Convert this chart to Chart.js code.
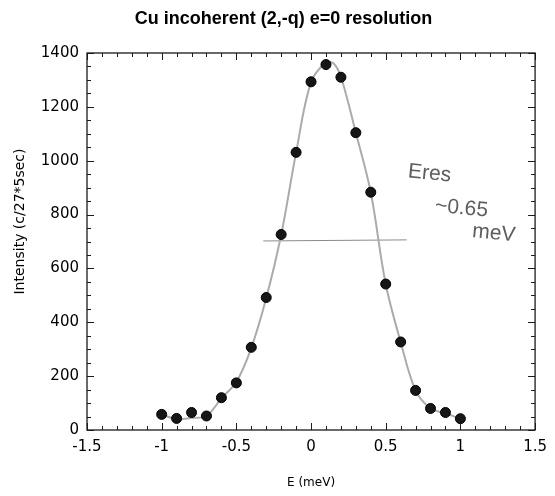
<!DOCTYPE html>
<html><head><meta charset="utf-8">
<script src="https://cdn.jsdelivr.net/npm/chart.js@4"></script>
<style>html,body{margin:0;padding:0;background:#fff}</style>
</head><body>
<canvas id="c" width="555" height="496"></canvas>
<script>
const energy = [-1.0, -0.9, -0.8, -0.7, -0.6, -0.5, -0.4, -0.3, -0.2, -0.1, 0.0, 0.1, 0.2, 0.3, 0.4, 0.5, 0.6, 0.7, 0.8, 0.9, 1.0];
const intensity = [58, 43, 65, 52, 120, 175, 307, 492, 726, 1031, 1293, 1357, 1310, 1104, 883, 542, 327, 147, 80, 65, 42];
const fitEnergy = [-1.0, -0.9, -0.8, -0.7, -0.6, -0.5, -0.4, -0.3, -0.2, -0.1, 0.0, 0.1, 0.15, 0.2, 0.3, 0.4, 0.5, 0.6, 0.7, 0.8, 0.9, 1.0];
const fitIntensity = [58, 40, 45, 52, 118, 178, 305, 490, 725, 1030, 1292, 1365, 1362, 1312, 1104, 882, 542, 327, 147, 80, 62, 42];
const halfMaxEnergy = [-0.32, 0.64];
const halfMaxIntensity = [702, 706];
const xTickLabels = ['-1.5', '-1', '-0.5', '0', '0.5', '1', '1.5'];
const yTickLabels = ['0', '200', '400', '600', '800', '1000', '1200', '1400'];
const noteLines = ['Eres', '~0.65', 'meV'];
const noteEnergy = [0.65, 0.83, 1.08];
const noteIntensity = [960, 833, 738];
const chartTitle = 'Cu incoherent (2,-q) e=0 resolution';
const yTitle = 'Intensity (c/27*5sec)';
const xTitle = 'E (meV)';

function pickLabel(list, v) {
  const i = list.findIndex(l => Math.abs(parseFloat(l) - v) < 1e-6);
  return i >= 0 ? list[i] : '';
}

const framePlugin = {
  id: 'frame',
  afterDraw(chart) {
    const {ctx, chartArea: a, scales: {x, y}} = chart;
    ctx.save();
    ctx.strokeStyle = '#1a1a1a';
    ctx.lineWidth = 1.3;
    ctx.strokeRect(a.left, a.top, a.right - a.left, a.bottom - a.top);
    ctx.lineWidth = 1;
    const seg = (x1, y1, x2, y2) => { ctx.beginPath(); ctx.moveTo(x1, y1); ctx.lineTo(x2, y2); ctx.stroke(); };
    x.ticks.forEach(t => {
      const px = Math.round(x.getPixelForValue(t.value)) + 0.5;
      const L = t.label ? 7 : 4;
      seg(px, a.bottom, px, a.bottom - L);
      seg(px, a.top, px, a.top + L);
    });
    y.ticks.forEach(t => {
      const py = Math.round(y.getPixelForValue(t.value)) + 0.5;
      const L = t.label ? 7 : 4;
      seg(a.left, py, a.left + L, py);
      seg(a.right, py, a.right - L, py);
    });
    ctx.restore();
  }
};

const textPlugin = {
  id: 'texts',
  afterDraw(chart) {
    const {ctx, chartArea: a, scales: {x, y}} = chart;
    ctx.save();
    // chart title
    ctx.fillStyle = '#000';
    ctx.font = 'bold 18px "Liberation Sans", Arial';
    ctx.textAlign = 'center';
    ctx.textBaseline = 'middle';
    ctx.fillText(chartTitle, chart.width / 2 + 6, a.top - 34);
    // y axis title
    ctx.save();
    ctx.font = '14px "DejaVu Sans"';
    ctx.translate(a.left - 67, (a.top + a.bottom) / 2 - 20);
    ctx.rotate(-Math.PI / 2);
    ctx.fillText(yTitle, 0, 0);
    ctx.restore();
    // handwritten note
    ctx.fillStyle = '#5e5e5e';
    ctx.font = '21px "Liberation Sans"';
    ctx.textAlign = 'left';
    noteLines.forEach((txt, i) => {
      ctx.save();
      ctx.translate(x.getPixelForValue(noteEnergy[i]), y.getPixelForValue(noteIntensity[i]));
      ctx.rotate(0.1);
      ctx.fillText(txt, 0, 0);
      ctx.restore();
    });
    ctx.restore();
  }
};

new Chart(document.getElementById('c'), {
  type: 'scatter',
  data: {
    datasets: [
      {
        type: 'line',
        data: fitEnergy.map((e, i) => ({x: e, y: fitIntensity[i]})),
        borderColor: '#ababab', borderWidth: 2, pointRadius: 0, tension: 0.35, fill: false, order: 2
      },
      {
        type: 'line',
        data: halfMaxEnergy.map((e, i) => ({x: e, y: halfMaxIntensity[i]})),
        borderColor: '#8a8a8a', borderWidth: 1, pointRadius: 0, fill: false, order: 3
      },
      {
        type: 'scatter',
        data: energy.map((e, i) => ({x: e, y: intensity[i]})),
        backgroundColor: '#161616', borderColor: '#000', borderWidth: 1, pointRadius: 5, order: 1
      }
    ]
  },
  options: {
    responsive: false,
    animation: false,
    devicePixelRatio: 1,
    layout: {padding: {left: 6, right: 15, top: 53, bottom: 4}},
    plugins: {
      legend: {display: false},
      tooltip: {enabled: false},
      title: {display: false}
    },
    scales: {
      x: {
        type: 'linear', min: -1.5, max: 1.5,
        grid: {display: false, drawTicks: false, tickLength: 0}, border: {display: false},
        ticks: {
          stepSize: 0.1, autoSkip: false, maxRotation: 0, padding: 8, color: '#000',
          font: {family: '"DejaVu Sans"', size: 15},
          callback: v => pickLabel(xTickLabels, v)
        },
        title: {display: true, text: xTitle, color: '#000', font: {family: '"DejaVu Sans"', size: 12}, padding: {top: 0, bottom: 2}},
        afterFit: s => { s.height = 62; }
      },
      y: {
        type: 'linear', min: 0, max: 1400,
        grid: {display: false, drawTicks: false, tickLength: 0}, border: {display: false},
        ticks: {
          stepSize: 50, autoSkip: false, padding: 8, color: '#000',
          font: {family: '"DejaVu Sans"', size: 15},
          callback: v => pickLabel(yTickLabels, v)
        },
        afterFit: s => { s.width = 81; }
      }
    }
  },
  plugins: [framePlugin, textPlugin]
});
</script>
</body></html>
